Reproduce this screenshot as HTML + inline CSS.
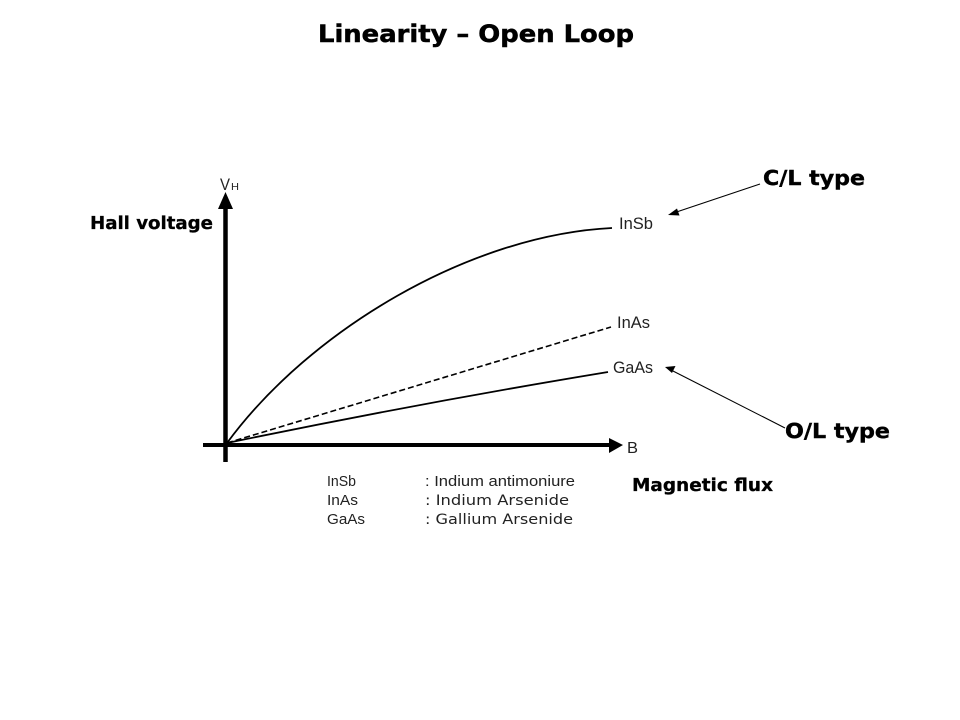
<!DOCTYPE html>
<html>
<head>
<meta charset="utf-8">
<style>
  html, body { margin: 0; padding: 0; background: #ffffff; }
  body { width: 960px; height: 720px; overflow: hidden; }
  svg { display: block; }
</style>
</head>
<body>
<svg width="960" height="720" viewBox="0 0 960 720" xmlns="http://www.w3.org/2000/svg">
  <rect width="960" height="720" fill="#ffffff"/>

  <!-- Title -->
  <text x="318" y="42" font-family="'DejaVu Sans', 'Liberation Sans', sans-serif" font-weight="bold" font-size="24" fill="#000" stroke="#000" stroke-width="0.5" textLength="316" lengthAdjust="spacingAndGlyphs">Linearity – Open Loop</text>

  <!-- Axes -->
  <line x1="225.5" y1="205" x2="225.5" y2="462" stroke="#000" stroke-width="4.5"/>
  <polygon points="225.5,192 218,209 233,209" fill="#000"/>
  <line x1="203" y1="445" x2="612" y2="445" stroke="#000" stroke-width="4"/>
  <polygon points="623,445 609,438 609,453" fill="#000"/>

  <!-- Axis labels -->
  <text x="220" y="190" font-family="'Liberation Sans', sans-serif" font-size="17" fill="#222" textLength="10" lengthAdjust="spacingAndGlyphs">V</text>
  <text x="231" y="190" font-family="'Liberation Sans', sans-serif" font-size="10" fill="#222" textLength="8" lengthAdjust="spacingAndGlyphs">H</text>
  <text x="627" y="453" font-family="'Liberation Sans', sans-serif" font-size="16" fill="#222" textLength="11" lengthAdjust="spacingAndGlyphs">B</text>

  <!-- Curves -->
  <path d="M227,443 C310,330 470,235 612,228" fill="none" stroke="#000" stroke-width="1.8"/>
  <path d="M227,443 L611,327" fill="none" stroke="#000" stroke-width="1.6" stroke-dasharray="6,3"/>
  <path d="M227,443 Q420,403 608,372" fill="none" stroke="#000" stroke-width="1.8"/>

  <!-- Curve labels -->
  <text x="619" y="229" font-family="'Liberation Sans', sans-serif" font-size="16.5" fill="#222" textLength="34" lengthAdjust="spacingAndGlyphs">InSb</text>
  <text x="617" y="328" font-family="'Liberation Sans', sans-serif" font-size="16.5" fill="#222" textLength="33" lengthAdjust="spacingAndGlyphs">InAs</text>
  <text x="613" y="373" font-family="'Liberation Sans', sans-serif" font-size="16.5" fill="#222" textLength="40" lengthAdjust="spacingAndGlyphs">GaAs</text>

  <!-- Hall voltage -->
  <text x="90" y="229" font-family="'DejaVu Sans', 'Liberation Sans', sans-serif" font-weight="bold" font-size="18" fill="#000" stroke="#000" stroke-width="0.3" textLength="123" lengthAdjust="spacingAndGlyphs">Hall voltage</text>

  <!-- Magnetic flux -->
  <text x="632" y="491" font-family="'DejaVu Sans', 'Liberation Sans', sans-serif" font-weight="bold" font-size="18" fill="#000" stroke="#000" stroke-width="0.3" textLength="141" lengthAdjust="spacingAndGlyphs">Magnetic flux</text>

  <!-- C/L type -->
  <text x="763" y="185" font-family="'DejaVu Sans', 'Liberation Sans', sans-serif" font-weight="bold" font-size="20.5" fill="#000" stroke="#000" stroke-width="0.4" textLength="102" lengthAdjust="spacingAndGlyphs">C/L type</text>
  <line x1="760" y1="184" x2="675" y2="212.5" stroke="#000" stroke-width="1.1"/>
  <polygon points="668,215 677,208.5 679.5,215.5" fill="#000"/>

  <!-- O/L type -->
  <text x="785" y="438" font-family="'DejaVu Sans', 'Liberation Sans', sans-serif" font-weight="bold" font-size="20.5" fill="#000" stroke="#000" stroke-width="0.4" textLength="105" lengthAdjust="spacingAndGlyphs">O/L type</text>
  <line x1="785" y1="428" x2="671" y2="370" stroke="#000" stroke-width="1.1"/>
  <polygon points="665,367 675.5,366 672,373" fill="#000"/>

  <!-- Legend -->
  <g font-family="'Liberation Sans', sans-serif" font-size="15" fill="#222">
    <text x="327" y="486" textLength="29" lengthAdjust="spacingAndGlyphs">InSb</text>
    <text x="327" y="505" textLength="31" lengthAdjust="spacingAndGlyphs">InAs</text>
    <text x="327" y="524" textLength="38" lengthAdjust="spacingAndGlyphs">GaAs</text>
    <text x="425" y="486" textLength="150" lengthAdjust="spacingAndGlyphs">: Indium antimoniure</text>
  </g>
  <g font-family="'DejaVu Sans', 'Liberation Sans', sans-serif" font-size="14.5" fill="#222">
    <text x="425" y="505" textLength="144" lengthAdjust="spacingAndGlyphs">: Indium Arsenide</text>
    <text x="425" y="524" textLength="148" lengthAdjust="spacingAndGlyphs">: Gallium Arsenide</text>
  </g>
</svg>
</body>
</html>
